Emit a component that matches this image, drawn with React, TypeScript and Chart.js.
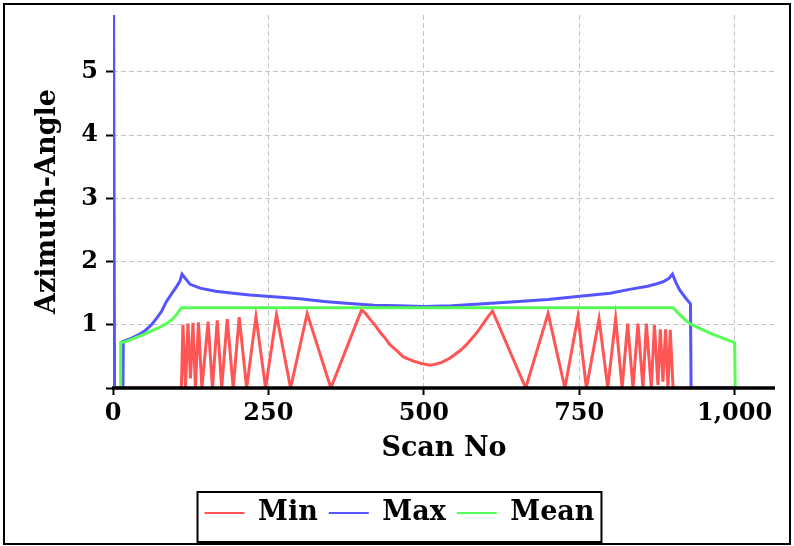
import { useEffect, useRef } from 'react';
import { Chart, registerables } from 'chart.js';

Chart.register(...registerables);

// ---- Data ----
const seriesNames = ['Min', 'Max', 'Mean'];
const seriesColors = ['#ff5555', '#5555ff', '#55ff55'];

const minX = [0, 1, 110, 112.5, 116.6, 120.6, 124.6, 128.6, 132.6, 137.5, 143, 153, 160, 167.7, 174.8, 183.8, 193.4, 203, 215, 230, 245.5, 263, 285.7, 312.4, 350.5, 400, 407, 415, 422, 429, 437, 445, 452, 460, 466, 472, 478, 485, 490, 494, 500, 505, 510, 515, 520, 528, 536, 543, 550, 557, 563, 570, 577, 584, 590, 600, 610.5, 664, 700, 727, 748, 761.6, 782, 796, 808.6, 819, 828, 836.5, 844.5, 852.6, 858, 866, 871, 876.7, 880.5, 884.7, 889, 892.8, 896.5, 901, 1000];
const minY = [0.72, 0, 0, 1.0, 0, 1.02, 0.15, 1.03, 0, 1.04, 0, 1.05, 0, 1.07, 0, 1.09, 0, 1.12, 0, 1.13, 0, 1.16, 0, 1.18, 0, 1.24, 1.17, 1.07, 0.99, 0.89, 0.8, 0.69, 0.63, 0.56, 0.5, 0.47, 0.45, 0.42, 0.41, 0.39, 0.38, 0.37, 0.36, 0.37, 0.38, 0.4, 0.44, 0.48, 0.53, 0.58, 0.63, 0.7, 0.78, 0.86, 0.94, 1.08, 1.22, 0, 1.18, 0, 1.13, 0, 1.09, 0, 1.1, 0, 1.02, 0, 1.02, 0, 1.02, 0, 1.0, 0.05, 0.93, 0.1, 0.93, 0, 0.92, 0, 0];

const maxX = [0, 1, 2.5, 16, 16.6, 30, 40.7, 52, 62, 70, 78, 86, 95, 102, 107.7, 111, 124, 140, 165, 193, 220, 247, 275, 300, 340, 375, 420, 460, 500, 545, 590, 640, 700, 751, 800, 831, 860, 872, 885, 894, 900, 906, 911.6, 920, 929, 930, 1000];
const maxY = [0, 5.9, 0, 0, 0.74, 0.79, 0.84, 0.91, 1.0, 1.1, 1.21, 1.37, 1.5, 1.6, 1.69, 1.8, 1.64, 1.58, 1.53, 1.5, 1.47, 1.45, 1.43, 1.41, 1.37, 1.34, 1.31, 1.3, 1.29, 1.3, 1.33, 1.36, 1.4, 1.45, 1.5, 1.56, 1.61, 1.64, 1.68, 1.73, 1.8, 1.66, 1.55, 1.44, 1.33, 0, 0];

const meanX = [0, 12, 12.4, 19, 32.6, 45, 59.5, 73, 86, 95, 102, 110, 901, 906, 911.6, 920, 927.6, 938, 949, 962, 976, 988, 1000, 1001];
const meanY = [0, 0, 0.72, 0.73, 0.78, 0.83, 0.89, 0.95, 1.02, 1.08, 1.16, 1.27, 1.27, 1.22, 1.16, 1.08, 1.02, 0.97, 0.92, 0.86, 0.81, 0.76, 0.72, 0];

const xTickStep = 250;
const yTickStep = 1;
const xTitle = 'Scan No';
const yTitle = 'Azimuth-Angle';

const FONT = "'DejaVu Serif', serif";

const frameExtras = {
  id: 'frameExtras',
  afterDraw(chart: any) {
    const ctx = chart.ctx;
    const ca = chart.chartArea;
    const y0 = chart.scales.y.getPixelForValue(0);
    // x axis line drawn above the data
    ctx.save();
    ctx.lineWidth = 3.6;
    ctx.strokeStyle = '#000';
    ctx.beginPath();
    ctx.moveTo(ca.left - 1, y0);
    ctx.lineTo(ca.right, y0);
    ctx.stroke();
    ctx.restore();

    const lg = chart.legend;
    if (!lg || !lg.legendHitBoxes || !lg.legendHitBoxes.length) return;
    const hb = lg.legendHitBoxes;
    const left = Math.min(...hb.map((b: any) => b.left)) - 7;
    const right = Math.max(...hb.map((b: any) => b.left + b.width)) + 7;
    const cy = hb[0].top + hb[0].height / 2;
    ctx.save();
    ctx.lineWidth = 2;
    ctx.strokeStyle = '#000';
    ctx.strokeRect(left, cy - 21, right - left, 50);
    ctx.restore();
  },
};

export default function App() {
  const ref = useRef<HTMLCanvasElement>(null);
  useEffect(() => {
    document.body.style.margin = '0';
    const toPts = (xs: number[], ys: number[]) => xs.map((x, i) => ({ x, y: ys[i] }));
    const data = [toPts(minX, minY), toPts(maxX, maxY), toPts(meanX, meanY)];
    const chart = new Chart(ref.current!, {
      type: 'line',
      data: {
        datasets: seriesNames.map((name, i) => ({
          label: name,
          data: data[i],
          borderColor: seriesColors[i],
          backgroundColor: seriesColors[i],
          borderWidth: 3,
          pointRadius: 0,
          tension: 0,
          fill: false,
          order: 3 - i,
        })),
      },
      options: {
        animation: false,
        responsive: true,
        maintainAspectRatio: false,
        layout: { padding: { left: 5, right: 0, top: 10, bottom: 6.5 } },
        plugins: {
          tooltip: { enabled: false },
          legend: {
            position: 'bottom',
            labels: {
              font: { family: FONT, weight: 'bold', size: 27 },
              color: '#000',
              usePointStyle: true,
              pointStyle: 'line',
              pointStyleWidth: 40,
              padding: 11,
              sort: (a: any, b: any) => a.datasetIndex - b.datasetIndex,
              generateLabels: (chart: any) =>
                Chart.defaults.plugins.legend.labels
                  .generateLabels(chart)
                  .map((l: any) => ({ ...l, lineWidth: 2, pointStyle: 'line' })),
            },
          },
        },
        scales: {
          x: {
            type: 'linear',
            min: 0,
            max: 1065,
            z: 1,
            afterFit: (s: any) => {
              s.height = 100.5;
              s.paddingLeft = 0;
              s.paddingRight = 14;
            },
            ticks: {
              stepSize: xTickStep,
              includeBounds: false,
              color: '#000',
              font: { family: FONT, weight: 'bold', size: 24 },
              padding: 4,
              maxRotation: 0,
            },
            grid: {
              color: '#c4c4c4',
              lineWidth: 1,
              tickColor: '#000',
              tickLength: 7,
              tickWidth: 2,
            },
            border: { display: false, dash: [5, 3] },
            title: {
              display: true,
              text: xTitle,
              color: '#000',
              font: { family: FONT, weight: 'bold', size: 27 },
              padding: { top: 0, bottom: 23 },
            },
          },
          y: {
            type: 'linear',
            min: 0,
            max: 5.9,
            afterFit: (s: any) => {
              s.width = 103;
              s.paddingTop = 0;
              s.paddingBottom = 0;
            },
            ticks: {
              stepSize: yTickStep,
              includeBounds: false,
              color: '#000',
              font: { family: FONT, weight: 'bold', size: 24 },
              padding: 8,
              callback: (v: any) => (v === 0 ? '' : String(v)),
            },
            grid: {
              color: '#c4c4c4',
              lineWidth: 1,
              tickColor: '#000',
              tickLength: 7,
              tickWidth: 2,
            },
            border: { display: false, dash: [5, 3] },
            title: {
              display: true,
              text: yTitle,
              color: '#000',
              font: { family: FONT, weight: 'bold', size: 27 },
              padding: { top: 21.8, bottom: 0 },
            },
          },
        },
      },
      plugins: [frameExtras],
    });
    return () => chart.destroy();
  }, []);

  return (
    <div
      style={{
        position: 'absolute',
        left: 3,
        top: 3,
        width: 788,
        height: 542,
        border: '2px solid #000',
        boxSizing: 'border-box',
        background: '#fff',
      }}
    >
      <div style={{ position: 'relative', width: 784, height: 538 }}>
        <canvas ref={ref} />
      </div>
    </div>
  );
}
